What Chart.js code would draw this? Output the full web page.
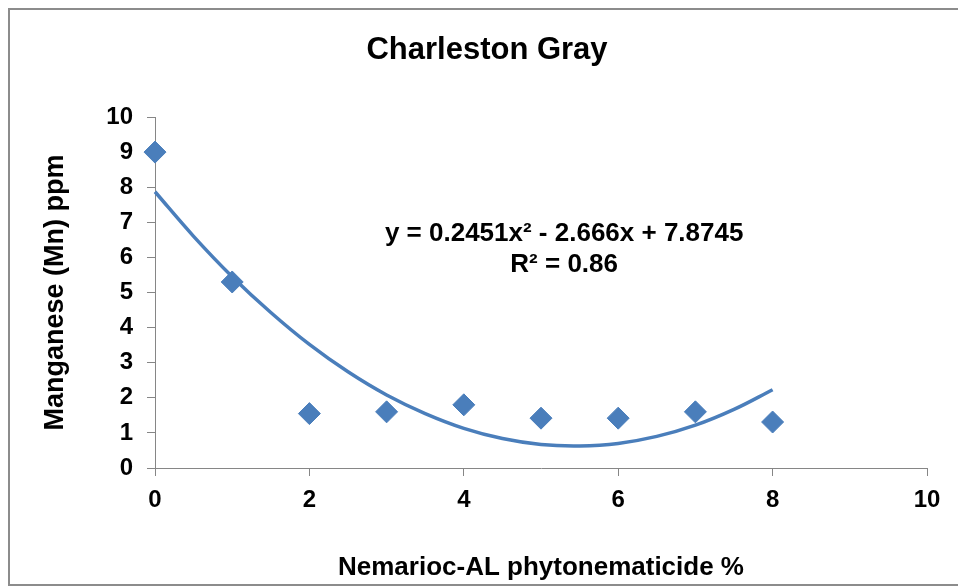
<!DOCTYPE html>
<html lang="en">
<head>
  <meta charset="UTF-8">
  <title>Charleston Gray</title>
  <script src="https://cdn.jsdelivr.net/npm/chart.js"></script>
  <style>
    html, body { margin: 0; padding: 0; background: #fff; }
    #wrap { position: relative; width: 958px; height: 586px; }
  </style>
</head>
<body>
  <div id="wrap"><canvas id="grafico"></canvas></div>

  <script>
    // observed points
    const dosis = [0, 1, 2, 3, 4, 5, 6, 7, 8];
    const manganeso = [9.0, 5.3, 1.55, 1.6, 1.8, 1.42, 1.42, 1.6, 1.31];

    // trendline (poly, order 2)
    const tendX = [0, 0.5, 1, 1.5, 2, 2.5, 3, 3.5, 4, 4.5, 5, 5.5, 6, 6.5, 7, 7.5, 8];
    const tendY = [7.87, 6.6, 5.45, 4.43, 3.52, 2.74, 2.08, 1.55, 1.13, 0.84, 0.67, 0.63, 0.7, 0.9, 1.22, 1.67, 2.23];

    const ticksX = [0, 2, 4, 6, 8, 10];
    const ticksY = [0, 1, 2, 3, 4, 5, 6, 7, 8, 9, 10];

    const titulo = 'Charleston Gray';
    const ecuacion = ['y = 0.2451x\u00b2 - 2.666x + 7.8745', 'R\u00b2 = 0.86'];
    const posEcuacion = { x: 5.3, y: [6.67, 5.78] };

    const azul = '#4a7ebb';
    const gris = '#868686';
    const fuente = '"Liberation Sans", Arial, sans-serif';

    // frame, title and equation label
    const extras = {
      id: 'extras',
      beforeDraw(chart) {
        const ctx = chart.ctx;
        ctx.save();
        ctx.strokeStyle = '#8c8c8c';
        ctx.lineWidth = 2;
        ctx.strokeRect(9, 9, 970, 576);
        ctx.font = 'bold 31px ' + fuente;
        ctx.fillStyle = '#000';
        ctx.textAlign = 'center';
        ctx.textBaseline = 'middle';
        ctx.fillText(titulo, 487, 50);
        ctx.restore();
      },
      afterDraw(chart) {
        const ctx = chart.ctx;
        const x = chart.scales.x.getPixelForValue(posEcuacion.x);
        ctx.save();
        ctx.font = 'bold 26px ' + fuente;
        ctx.fillStyle = '#000';
        ctx.textAlign = 'center';
        ctx.textBaseline = 'middle';
        ecuacion.forEach((t, i) => {
          ctx.fillText(t, x, chart.scales.y.getPixelForValue(posEcuacion.y[i]));
        });
        ctx.restore();
      }
    };

    const puntos = dosis.map((d, i) => ({ x: d, y: manganeso[i] }));
    const tendencia = tendX.map((d, i) => ({ x: d, y: tendY[i] }));

    new Chart(document.getElementById('grafico'), {
      type: 'scatter',
      data: {
        datasets: [
          {
            label: 'Mn',
            data: puntos,
            pointStyle: 'rectRot',
            pointRadius: 11,
            pointHoverRadius: 11,
            backgroundColor: azul,
            borderColor: azul,
            borderWidth: 1,
            clip: false,
            order: 1
          },
          {
            label: 'Poly. (Mn)',
            data: tendencia,
            showLine: true,
            pointRadius: 0,
            borderColor: azul,
            borderWidth: 3.5,
            tension: 0.4,
            fill: false,
            clip: false,
            order: 2
          }
        ]
      },
      options: {
        responsive: true,
        maintainAspectRatio: false,
        animation: false,
        layout: { padding: { left: 0, right: 31, top: 117, bottom: 0 } },
        plugins: {
          legend: { display: false },
          tooltip: { enabled: false },
          title: { display: false }
        },
        scales: {
          x: {
            type: 'linear',
            min: 0,
            max: 10,
            afterBuildTicks: s => { s.ticks = ticksX.map(v => ({ value: v })); },
            afterFit: s => { s.height = 118; },
            grid: { drawOnChartArea: false, drawTicks: true, tickLength: 8, color: gris },
            border: { color: gris, width: 1 },
            ticks: { color: '#000', padding: 10, font: { family: fuente, size: 24, weight: 'bold' } },
            title: {
              display: true,
              text: 'Nemarioc-AL phytonematicide %',
              color: '#000',
              font: { family: fuente, size: 26, weight: 'bold' },
              padding: { top: 0, bottom: 3 }
            }
          },
          y: {
            type: 'linear',
            min: 0,
            max: 10,
            afterBuildTicks: s => { s.ticks = ticksY.map(v => ({ value: v })); },
            afterFit: s => { s.width = 155; },
            grid: { drawOnChartArea: false, drawTicks: true, tickLength: 8, color: gris },
            border: { color: gris, width: 1 },
            ticks: { color: '#000', padding: 14, font: { family: fuente, size: 24, weight: 'bold' } },
            title: {
              display: true,
              text: 'Manganese (Mn) ppm',
              color: '#000',
              font: { family: fuente, size: 27, weight: 'bold' },
              padding: { top: 39, bottom: 0 }
            }
          }
        }
      },
      plugins: [extras]
    });
  </script>
</body>
</html>
